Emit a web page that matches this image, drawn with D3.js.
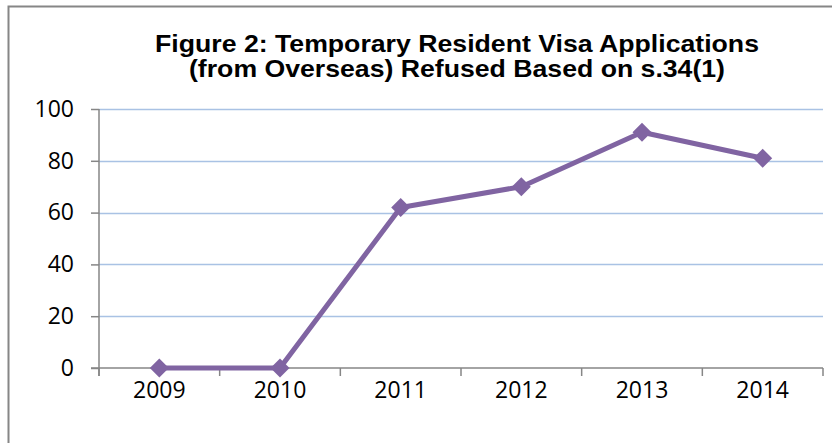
<!DOCTYPE html>
<html><head><meta charset="utf-8">
<script src="https://cdn.jsdelivr.net/npm/d3@7"></script>
<style>body{margin:0;background:#fff}svg{display:block}</style>
</head><body><svg id="c" width="832" height="443"></svg>
<script>
const categories = ["2009","2010","2011","2012","2013","2014"];
const values = [0, 0, 62, 70, 91, 81];
const yTicks = [0, 20, 40, 60, 80, 100];
const titleLines = ["Figure 2: Temporary Resident Visa Applications", "(from Overseas) Refused Based on s.34(1)"];

(function () {
const svg = d3.select("#c");
const W = 832, H = 443;
svg.append("rect").attr("x", 0).attr("y", 0).attr("width", W).attr("height", H).attr("fill", "#fff");
// outer border
svg.append("rect").attr("x", 8.5).attr("y", 6.5).attr("width", W + 10).attr("height", H + 10)
  .attr("fill", "none").attr("stroke", "#868686").attr("stroke-width", 2);

const pl = 99, pr = 823, pt = 109, pb = 368;
const x = d3.scaleBand().domain(categories).range([pl, pr]);
const y = d3.scaleLinear().domain([0, 100]).range([pb, pt]);

// gridlines
svg.append("g").selectAll("line").data(yTicks.filter(d => d > 0)).join("line")
  .attr("x1", pl).attr("x2", pr)
  .attr("y1", d => Math.round(y(d)) + 0.5).attr("y2", d => Math.round(y(d)) + 0.5)
  .attr("stroke", "#a9c2e4").attr("stroke-width", 1.5);

// y axis
const ya = svg.append("g").attr("transform", `translate(${pl},0)`)
  .call(d3.axisLeft(y).tickValues(yTicks).tickSize(8).tickPadding(17));
ya.select(".domain").attr("stroke", "#868686").attr("stroke-width", 1.5)
  .attr("d", `M0,${pt}V${pb + 8}`);
ya.selectAll(".tick line").attr("stroke", "#868686").attr("stroke-width", 1.5);
ya.selectAll("text").attr("font-family", "'Open Sans', sans-serif").attr("font-size", 23).attr("fill", "#000");

// x axis
const xa = svg.append("g").attr("transform", `translate(0,${pb})`)
  .call(d3.axisBottom(x).tickSize(0).tickPadding(14));
xa.select(".domain").remove();
xa.append("line").attr("x1", pl - 8).attr("x2", pr).attr("y1", 0).attr("y2", 0)
  .attr("stroke", "#868686").attr("stroke-width", 1.5);
const bounds = categories.map(c => x(c)).concat([pr]);
xa.selectAll(".bt").data(bounds).join("line").attr("class", "bt")
  .attr("x1", d => d).attr("x2", d => d).attr("y1", 0).attr("y2", 8)
  .attr("stroke", "#868686").attr("stroke-width", 1.5);
xa.selectAll(".tick text").attr("font-family", "'Open Sans', sans-serif").attr("font-size", 23)
  .attr("fill", "#000").attr("dy", "0.71em");

// line
const cx = d => x(d) + x.bandwidth() / 2;
const line = d3.line().x((d, i) => cx(categories[i])).y(d => y(d));
svg.append("path").datum(values).attr("d", line).attr("fill", "none")
  .attr("stroke", "#8064a2").attr("stroke-width", 5).attr("stroke-linejoin", "round");
svg.append("g").selectAll("path").data(values).join("path")
  .attr("d", d3.symbol().type(d3.symbolDiamond2).size(230))
  .attr("transform", (d, i) => `translate(${cx(categories[i])},${y(d)})`)
  .attr("fill", "#8064a2");

// title
const tl = [604, 536];
svg.append("g").selectAll("text").data(titleLines).join("text")
  .attr("x", 457).attr("y", (d, i) => 52 + i * 25).attr("text-anchor", "middle")
  .attr("font-family", "'Liberation Sans', Arial, sans-serif").attr("font-weight", "bold")
  .attr("font-size", 24).attr("fill", "#000")
  .attr("textLength", (d, i) => tl[i]).attr("lengthAdjust", "spacingAndGlyphs")
  .text(d => d);
})();
</script></body></html>
